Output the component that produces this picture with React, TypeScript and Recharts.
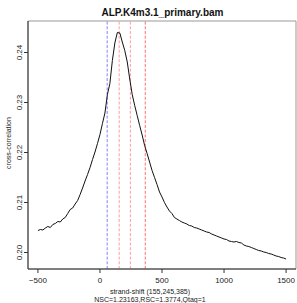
import { Line, LineChart, ReferenceArea, ReferenceLine, XAxis, YAxis } from "recharts";

const FONT = '"Liberation Sans", Arial, Helvetica, sans-serif';

const title = "ALP.K4m3.1_primary.bam";
const xLabel = "strand-shift (155,245,385)";
const statsLabel = "NSC=1.23163,RSC=1.3774,Qtag=1";
const yLabel = "cross-correlation";

const xTicks = [-500, 0, 500, 1000, 1500];
const yTicks = [0.2, 0.21, 0.22, 0.23, 0.24];
const xDomain = [-580, 1580];
const yDomain = [0.1967, 0.2463];

// phantom peak (read length) and the strand-shift peaks
const phantomShift = 58;
const peakShifts = [155, 245, 365];

const shifts = [
  -500, -480, -460, -440, -420, -400, -380, -360, -340, -320, -300, -280, -260, -240, -220, -200,
  -180, -160, -140, -120, -100, -80, -60, -40, -20, 0, 20, 40, 60, 80, 100, 120, 140, 160, 180,
  200, 220, 240, 260, 280, 300, 320, 340, 360, 380, 400, 420, 440, 460, 480, 500, 520, 540, 560,
  580, 600, 620, 640, 660, 680, 700, 720, 740, 760, 780, 800, 820, 840, 860, 880, 900, 920, 940,
  960, 980, 1000, 1020, 1040, 1060, 1080, 1100, 1120, 1140, 1160, 1180, 1200, 1220, 1240, 1260,
  1280, 1300, 1320, 1340, 1360, 1380, 1400, 1420, 1440, 1460, 1480, 1500,
];

const correlation = [
  0.2044, 0.2046, 0.2045, 0.2049, 0.2052, 0.205, 0.2056, 0.2058, 0.2062, 0.2061, 0.2067, 0.207,
  0.2078, 0.2086, 0.2089, 0.2097, 0.2104, 0.2116, 0.2129, 0.2143, 0.2156, 0.217, 0.2186, 0.2201,
  0.2218, 0.2236, 0.2258, 0.2279, 0.2316, 0.2338, 0.2384, 0.2419, 0.244, 0.2439, 0.2421, 0.2404,
  0.2381, 0.2347, 0.2316, 0.2294, 0.2274, 0.2254, 0.2235, 0.2214, 0.2198, 0.2181, 0.2164, 0.215,
  0.2136, 0.2121, 0.2111, 0.21, 0.2091, 0.2083, 0.2078, 0.207, 0.2067, 0.2064, 0.2061, 0.2059,
  0.2057, 0.2054, 0.2053, 0.205, 0.2049, 0.2047, 0.2045, 0.2043, 0.2041, 0.204, 0.2037, 0.2035,
  0.2033, 0.2031, 0.2029, 0.2027, 0.2026, 0.2023, 0.2022, 0.2021, 0.2022, 0.202, 0.2019, 0.2015,
  0.2013, 0.2012, 0.201, 0.2008, 0.2006, 0.2004, 0.2003, 0.2001, 0.2, 0.1998, 0.1997, 0.1995,
  0.1993, 0.1992, 0.199, 0.1989, 0.1987,
];

const data = shifts.map((shift, i) => ({ shift, cc: correlation[i] }));

function YTick({ y, payload }: any) {
  return (
    <text
      x={22}
      y={y}
      transform={`rotate(-90, 22, ${y})`}
      textAnchor="middle"
      fontSize={8}
      fontFamily={FONT}
      fill="#222"
    >
      {Number(payload.value).toFixed(2)}
    </text>
  );
}

function XTitles() {
  return (
    <g fontFamily={FONT} fontSize={7} fill="#222" textAnchor="middle">
      <text x={150} y={293.5}>{xLabel}</text>
      <text x={150} y={301.5}>{statsLabel}</text>
    </g>
  );
}

// y axis title plus the main title above the plot
function YTitles() {
  return (
    <g fontFamily={FONT}>
      <text
        x={11}
        y={143}
        transform="rotate(-90, 11, 143)"
        textAnchor="middle"
        fontSize={7}
        fill="#222"
      >
        {yLabel}
      </text>
      <text x={162.5} y={16} textAnchor="middle" fontSize={10} fontWeight="bold" fill="#111">
        {title}
      </text>
    </g>
  );
}

export default function App() {
  return (
    <div style={{ position: "absolute", left: 0, top: 0, background: "#fff" }}>
      <LineChart width={297} height={303} data={data} margin={{ top: 21, right: 1, bottom: 0, left: 0 }}>
        <ReferenceArea
          x1={xDomain[0]}
          x2={xDomain[1]}
          y1={yDomain[0]}
          y2={yDomain[1]}
          fill="none"
          stroke="#999"
          strokeWidth={1}
        />
        <XAxis
          dataKey="shift"
          type="number"
          domain={xDomain}
          ticks={xTicks}
          height={34}
          tickSize={4}
          tickMargin={4}
          tick={{ fontSize: 8, fill: "#222", fontFamily: FONT }}
          tickFormatter={(v) => String(v).replace("-", "\u2212")}
          stroke="#333"
          label={<XTitles />}
        />
        <YAxis
          type="number"
          domain={yDomain}
          ticks={yTicks}
          width={28}
          tickSize={4}
          tick={<YTick />}
          stroke="#333"
          label={<YTitles />}
        />
        <ReferenceLine x={phantomShift} stroke="#8080ff" strokeDasharray="3 1.7" />
        {peakShifts.map((s, i) => (
          <ReferenceLine
            key={s}
            x={s}
            stroke={i === peakShifts.length - 1 ? "#ff6e6e" : "#ff9c9c"}
            strokeDasharray="3 1.7"
          />
        ))}
        <Line
          type="linear"
          dataKey="cc"
          stroke="#111"
          strokeWidth={1}
          dot={false}
          isAnimationActive={false}
        />
      </LineChart>
    </div>
  );
}
